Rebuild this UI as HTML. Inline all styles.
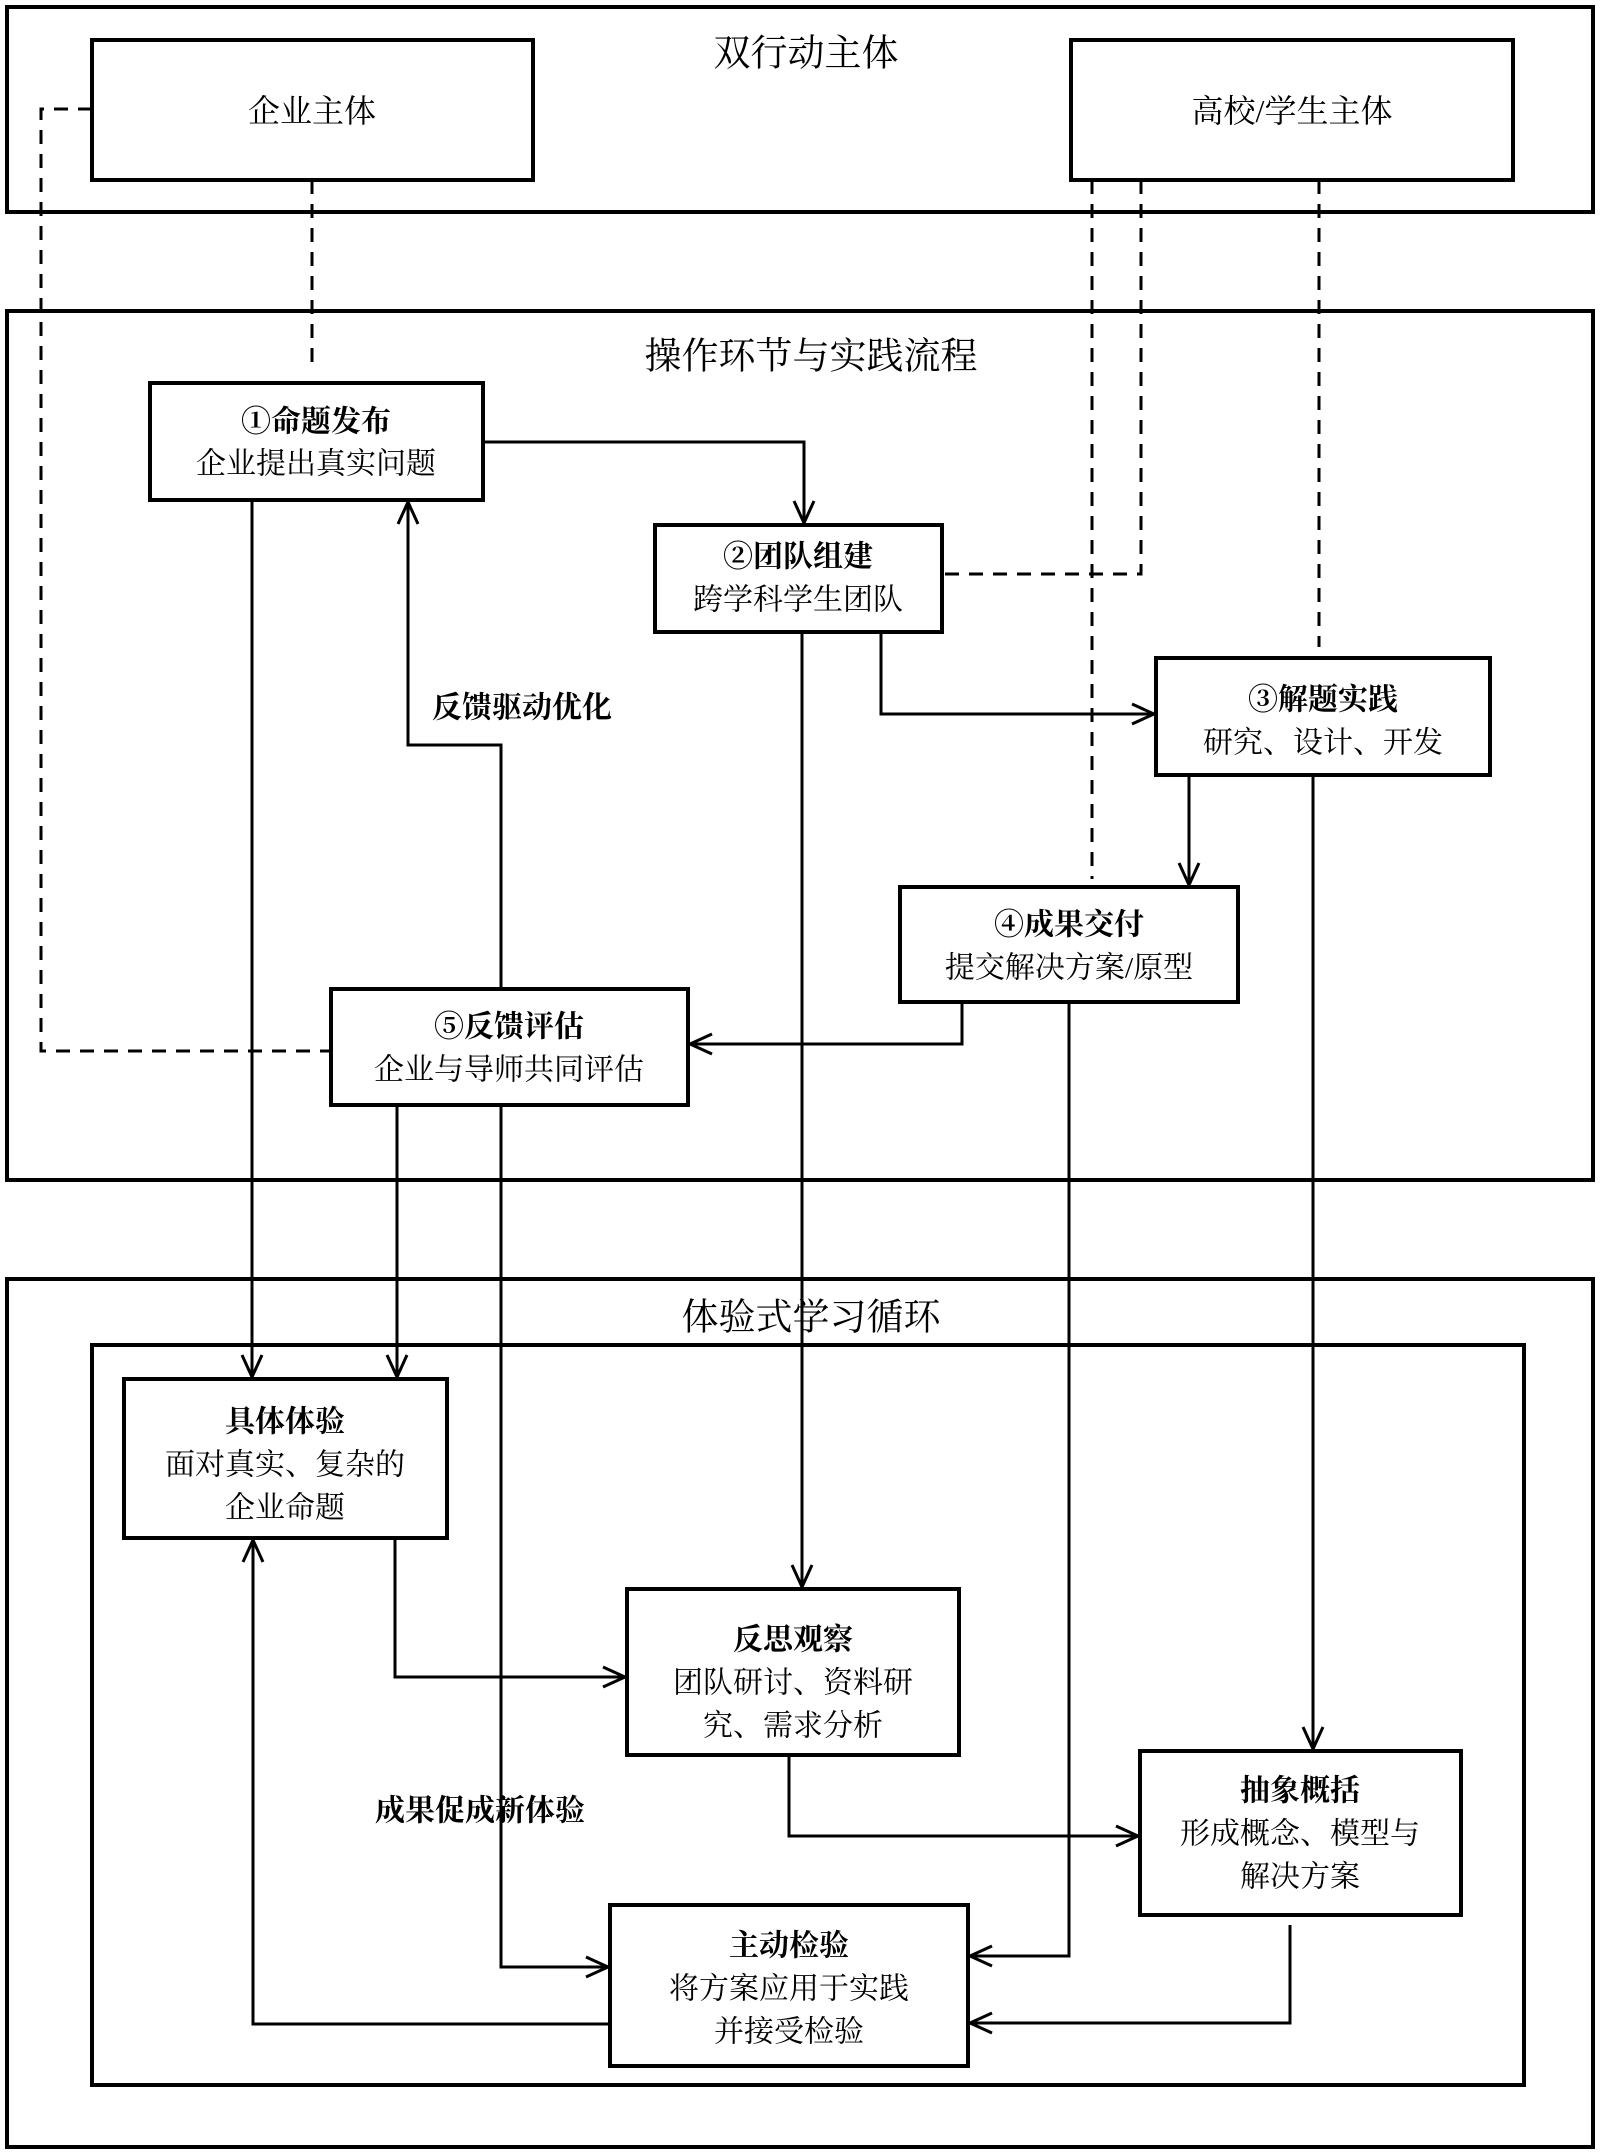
<!DOCTYPE html>
<html><head><meta charset="utf-8"><style>
html,body{margin:0;padding:0;background:#fff}
svg{display:block}
text{font-family:"Liberation Serif","Noto Serif CJK SC",serif;fill:#000;text-anchor:middle;dominant-baseline:central}
.t{font-size:37px}
.b{font-size:30px;font-weight:bold}
.s{font-size:30px}
</style></head><body>
<svg width="1600" height="2154" viewBox="0 0 1600 2154" xmlns="http://www.w3.org/2000/svg">
<defs>
<marker id="a" markerUnits="userSpaceOnUse" markerWidth="30" markerHeight="30" refX="24" refY="12" orient="auto">
<path d="M2,2 L24,12 L2,22" fill="none" stroke="#000" stroke-width="3"/>
</marker>
</defs>
<g fill="none" stroke="#000" stroke-width="4">
<rect x="7" y="7" width="1586" height="205"/>
<rect x="7" y="311" width="1586" height="869"/>
<rect x="7" y="1279" width="1586" height="868"/>
<rect x="92" y="1345" width="1432" height="740"/>
<rect x="92" y="40" width="441" height="140"/>
<rect x="1071" y="40" width="442" height="140"/>
<rect x="150" y="383" width="333" height="117"/>
<rect x="655" y="525" width="287" height="107"/>
<rect x="1156" y="658" width="334" height="117"/>
<rect x="900" y="887" width="338" height="115"/>
<rect x="331" y="989" width="357" height="116"/>
<rect x="124" y="1379" width="323" height="159"/>
<rect x="627" y="1589" width="332" height="166"/>
<rect x="1140" y="1751" width="321" height="164"/>
<rect x="610" y="1905" width="358" height="161"/>
</g>
<g fill="none" stroke="#000" stroke-width="3" stroke-dasharray="14,10">
<polyline points="92,109 41,109 41,1051 331,1051"/>
<line x1="312" y1="180" x2="312" y2="370"/>
<line x1="1092" y1="180" x2="1092" y2="879"/>
<polyline points="1141,180 1141,574 942,574"/>
<line x1="1319" y1="180" x2="1319" y2="647"/>
</g>
<g fill="none" stroke="#000" stroke-width="3" marker-end="url(#a)">
<polyline points="483,442 804,442 804,523"/>
<line x1="252" y1="500" x2="252" y2="1377"/>
<polyline points="501,989 501,745 408,745 408,502"/>
<line x1="802" y1="632" x2="802" y2="1587"/>
<polyline points="881,632 881,714 1154,714"/>
<line x1="1189" y1="775" x2="1189" y2="885"/>
<line x1="1313" y1="775" x2="1313" y2="1749"/>
<polyline points="962,1002 962,1044 690,1044"/>
<polyline points="1069,1002 1069,1956 970,1956"/>
<line x1="397" y1="1105" x2="397" y2="1377"/>
<polyline points="501,1105 501,1967 608,1967"/>
<polyline points="395,1538 395,1677 625,1677"/>
<polyline points="789,1755 789,1836 1138,1836"/>
<polyline points="1290,1925 1290,2023 970,2023"/>
<polyline points="610,2024 253,2024 253,1540"/>
</g>
<text class="t" x="806" y="54">双行动主体</text>
<text class="b" x="312" y="111" style="font-weight:normal;font-size:32px">企业主体</text>
<text class="b" x="1292" y="111" style="font-weight:normal;font-size:32px">高校/学生主体</text>
<text class="t" x="811" y="357">操作环节与实践流程</text>
<text class="t" x="811" y="1318">体验式学习循环</text>
<text class="b" x="316" y="422">①命题发布</text>
<text class="s" x="316" y="464">企业提出真实问题</text>
<text class="b" x="798" y="557">②团队组建</text>
<text class="s" x="798" y="600">跨学科学生团队</text>
<text class="b" x="1323" y="700">③解题实践</text>
<text class="s" x="1323" y="743">研究、设计、开发</text>
<text class="b" x="1069" y="925">④成果交付</text>
<text class="s" x="1069" y="968">提交解决方案/原型</text>
<text class="b" x="509" y="1027">⑤反馈评估</text>
<text class="s" x="509" y="1070">企业与导师共同评估</text>
<text class="b" x="522" y="708">反馈驱动优化</text>
<text class="b" x="285" y="1422">具体体验</text>
<text class="s" x="285" y="1465">面对真实、复杂的</text>
<text class="s" x="285" y="1508">企业命题</text>
<text class="b" x="793" y="1640">反思观察</text>
<text class="s" x="793" y="1683">团队研讨、资料研</text>
<text class="s" x="793" y="1726">究、需求分析</text>
<text class="b" x="1300" y="1791">抽象概括</text>
<text class="s" x="1300" y="1834">形成概念、模型与</text>
<text class="s" x="1300" y="1877">解决方案</text>
<text class="b" x="789" y="1946">主动检验</text>
<text class="s" x="789" y="1989">将方案应用于实践</text>
<text class="s" x="789" y="2032">并接受检验</text>
<text class="b" x="480" y="1811">成果促成新体验</text>
</svg>
</body></html>
